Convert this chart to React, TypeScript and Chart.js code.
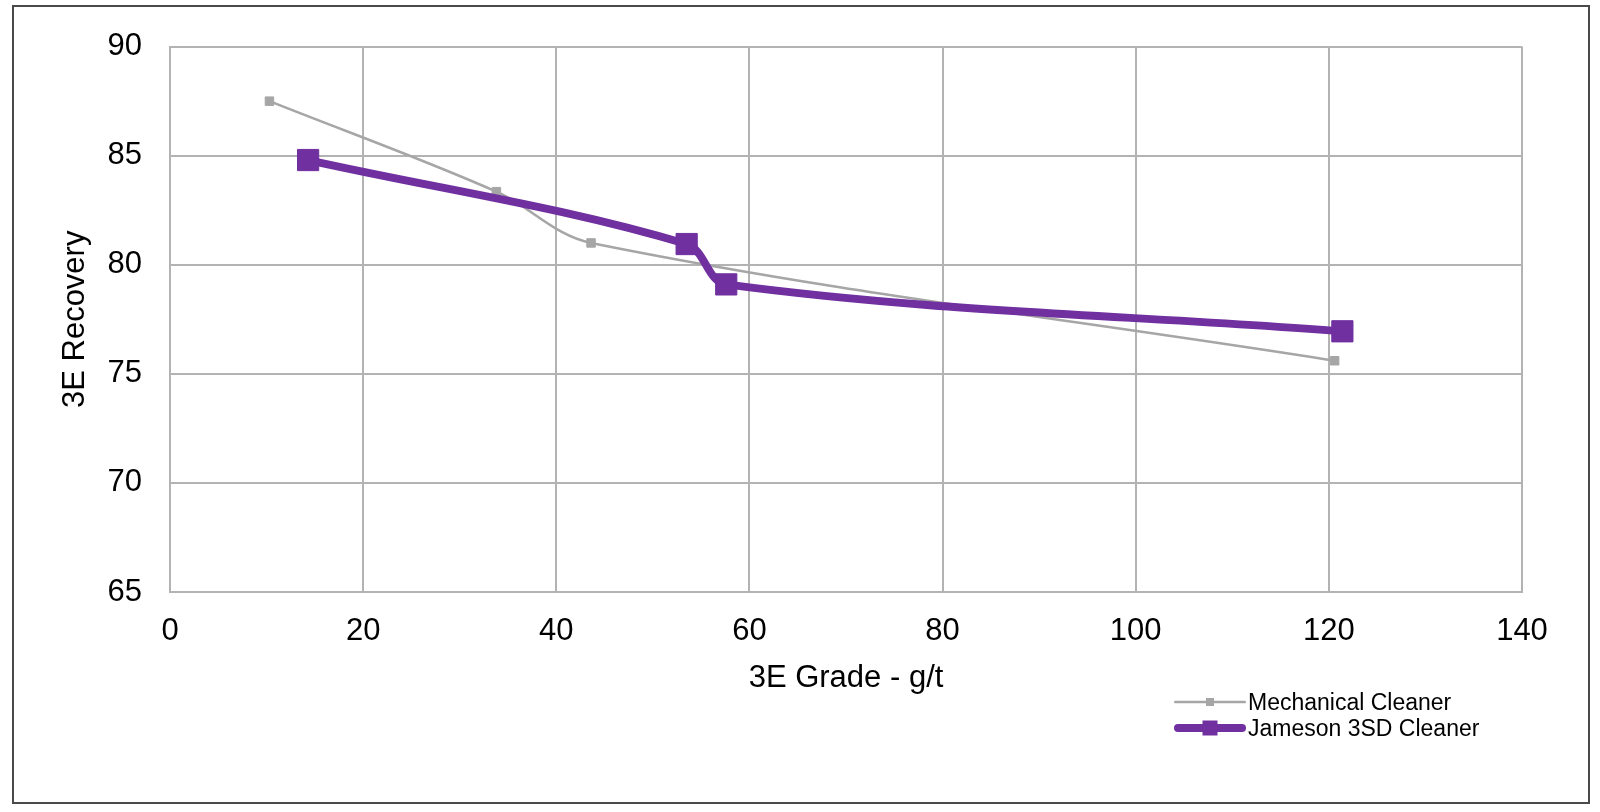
import React, { useEffect, useRef } from 'react';
import { Chart, registerables } from 'chart.js';
Chart.register(...registerables);

// series names and values
const seriesNames = ['Mechanical Cleaner', 'Jameson 3SD Cleaner'];
const mechanicalGrade = [10.3, 33.8, 43.6, 120.6];
const mechanicalRecovery = [87.5, 83.35, 81.0, 75.6];
const jamesonGrade = [14.3, 53.5, 57.6, 121.4];
const jamesonRecovery = [84.8, 80.95, 79.1, 76.95];
const xTicks = [0, 20, 40, 60, 80, 100, 120, 140];
const yTicks = [65, 70, 75, 80, 85, 90];
const xTitle = '3E Grade - g/t';
const yTitle = '3E Recovery';

const FONT = "'Liberation Sans', Arial, sans-serif";
const GREY = '#a6a6a6';
const PURPLE = '#7030a0';
const GRID = '#b3b3b3';

const App = () => {
  const chartRef = useRef(null);

  useEffect(() => {
    const ctx = (chartRef.current as HTMLCanvasElement).getContext('2d');
    const toPoints = (xs: number[], ys: number[]) => xs.map((x, i) => ({ x, y: ys[i] }));

    const chart = new Chart(ctx, {
      type: 'scatter',
      data: {
        datasets: [
          {
            label: seriesNames[1],
            data: toPoints(jamesonGrade, jamesonRecovery),
            showLine: true,
            borderColor: PURPLE,
            backgroundColor: PURPLE,
            borderWidth: 8,
            tension: 0.35,
            pointStyle: 'rect',
            pointRadius: 15,
            pointBorderWidth: 1,
            pointBackgroundColor: PURPLE,
            pointBorderColor: PURPLE,
            order: 1,
          },
          {
            label: seriesNames[0],
            data: toPoints(mechanicalGrade, mechanicalRecovery),
            showLine: true,
            borderColor: GREY,
            backgroundColor: GREY,
            borderWidth: 2.5,
            tension: 0.35,
            pointStyle: 'rect',
            pointRadius: 6,
            pointBorderWidth: 1,
            pointBackgroundColor: GREY,
            pointBorderColor: GREY,
            order: 2,
          },
        ],
      },
      options: {
        responsive: true,
        maintainAspectRatio: false,
        animation: false,
        layout: { padding: { top: 43, right: 78, left: 0, bottom: 0 } },
        plugins: {
          legend: { display: false },
          tooltip: { enabled: false },
        },
        scales: {
          x: {
            type: 'linear',
            min: 0,
            max: 140,
            afterBuildTicks: (scale: any) => {
              scale.ticks = xTicks.map((v) => ({ value: v }));
            },
            afterFit: (scale: any) => {
              scale.height = 220;
            },
            grid: { color: GRID, lineWidth: 2, drawTicks: false },
            border: { color: GRID, width: 2 },
            ticks: { color: '#000', padding: 21, font: { family: FONT, size: 31 } },
            title: {
              display: true,
              text: xTitle,
              color: '#000',
              font: { family: FONT, size: 31 },
              padding: { top: 0, bottom: 115 },
            },
          },
          y: {
            type: 'linear',
            min: 65,
            max: 90,
            afterBuildTicks: (scale: any) => {
              scale.ticks = yTicks.map((v) => ({ value: v }));
            },
            afterFit: (scale: any) => {
              scale.width = 170;
            },
            grid: { color: GRID, lineWidth: 2, drawTicks: false },
            border: { color: GRID, width: 2 },
            ticks: { color: '#000', padding: 28, font: { family: FONT, size: 31 } },
            title: {
              display: true,
              text: yTitle,
              color: '#000',
              font: { family: FONT, size: 31 },
              padding: { top: 57, bottom: 0 },
            },
          },
        },
      },
    });

    return () => {
      chart.destroy();
    };
  }, []);

  const legendRows = [
    { name: seriesNames[0], color: GREY, width: 2.5, marker: 8 },
    { name: seriesNames[1], color: PURPLE, width: 8, marker: 15 },
  ];

  return (
    <div style={{ position: 'fixed', left: 0, top: 0, width: 1600, height: 812, background: '#fff' }}>
      <div
        style={{
          position: 'absolute',
          left: 12,
          top: 5,
          width: 1574,
          height: 795,
          border: '2px solid #4a4a4a',
        }}
      />
      <div style={{ position: 'absolute', left: 0, top: 0, width: 1600, height: 812 }}>
        <canvas ref={chartRef}></canvas>
      </div>
      <div style={{ position: 'absolute', left: 1172, top: 689, fontFamily: FONT, fontSize: 23, color: '#000' }}>
        {legendRows.map((row) => (
          <div key={row.name} style={{ display: 'flex', alignItems: 'center', height: 26 }}>
            <svg width={76} height={26} style={{ display: 'block' }}>
              <line
                x1={row.width / 2 + 2}
                y1={13}
                x2={74 - row.width / 2}
                y2={13}
                stroke={row.color}
                strokeWidth={row.width}
                strokeLinecap="round"
              />
              <rect
                x={38 - row.marker / 2}
                y={13 - row.marker / 2}
                width={row.marker}
                height={row.marker}
                fill={row.color}
              />
            </svg>
            <span style={{ whiteSpace: 'nowrap' }}>{row.name}</span>
          </div>
        ))}
      </div>
    </div>
  );
};

export default App;
